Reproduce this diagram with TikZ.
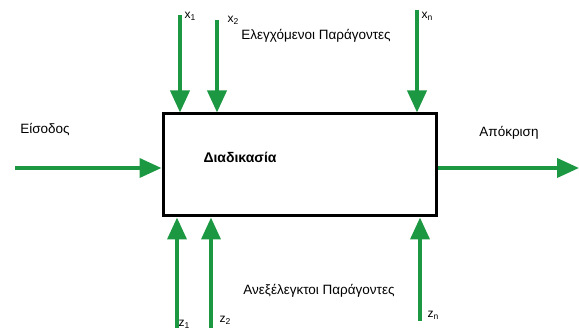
\documentclass[tikz,border=0pt]{standalone}
\usepackage{fontspec}
\setmainfont{Liberation Sans}
\usetikzlibrary{arrows.meta,positioning}
\definecolor{flowgreen}{RGB}{28,152,66}
\newcommand{\idx}[2]{#1\raisebox{-2pt}{\fontsize{8.5}{9}\selectfont #2}}

\begin{document}
\begin{tikzpicture}[x=1pt, y=1pt, >={Triangle[length=22pt,width=19pt]}, font=\fontsize{13.5}{15}\selectfont]
    \tikzset{flow/.style={->, draw=flowgreen, line width=3.8pt},
             lbl/.style={inner sep=0pt},
             sub/.style={inner sep=0pt, font=\fontsize{12}{13}\selectfont}}
    \useasboundingbox (0,0) rectangle (579,329);

    \node[draw, line width=3pt, minimum width=273pt, minimum height=102pt, inner sep=0pt] (process) at (299.5,164) {};
    \node[lbl, font=\fontsize{14}{16}\selectfont\bfseries] (title) at (240,172) {Διαδικασία};

    % input and output
    \coordinate (in)  at (15,161);
    \coordinate (out) at (579,161);
    \draw[flow] (in) -- (in -| process.west);
    \draw[flow] (out -| process.east) -- (out);
    \node[lbl] (inlbl)  at (45,199)  {Είσοδος};
    \node[lbl] (outlbl) at (509,196) {Απόκριση};

    % controlled factors
    \coordinate (x1) at (180,314);
    \coordinate (x2) at (217,309);
    \coordinate (xn) at (417,319);
    \foreach \c in {x1,x2,xn}
        \draw[flow] (\c) -- (\c |- process.north);
    \node[sub] (x1lbl) at (190,313) {\idx{x}{1}};
    \node[sub] (x2lbl) at (233,309) {\idx{x}{2}};
    \node[sub] (xnlbl) at (427,313) {\idx{x}{n}};
    \node[lbl] (ctrl) at (316,293) {Ελεγχόμενοι Παράγοντες};

    % uncontrolled factors
    \coordinate (z1) at (177,1);
    \coordinate (z2) at (211,1);
    \coordinate (zn) at (420,8);
    \foreach \c in {z1,z2,zn}
        \draw[flow] (\c) -- (\c |- process.south);
    \node[sub] (z1lbl) at (184,5)  {\idx{z}{1}};
    \node[sub] (z2lbl) at (225,9)  {\idx{z}{2}};
    \node[sub] (znlbl) at (433,14) {\idx{z}{n}};
    \node[lbl] (unctrl) at (319,38) {Ανεξέλεγκτοι Παράγοντες};
\end{tikzpicture}
\end{document}
